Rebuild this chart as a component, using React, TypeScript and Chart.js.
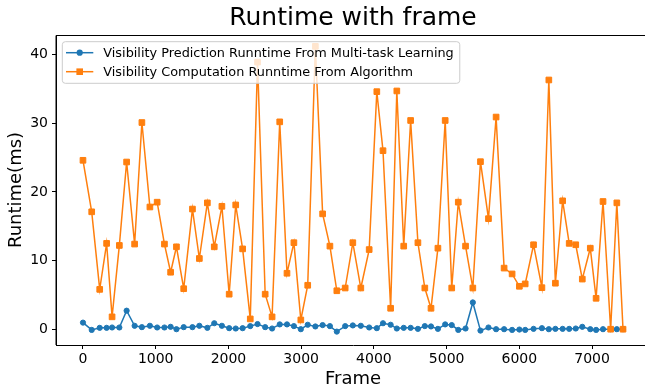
import React, { useEffect, useRef } from "react";
import { Chart, registerables } from "chart.js";

Chart.register(...registerables);

const FRAMES = [
  0, 120, 230, 325, 400, 500, 600, 710, 810, 920, 1020, 1120, 1205, 1285, 1385,
  1505, 1600, 1710, 1805, 1910, 2010, 2100, 2195, 2300, 2400, 2505, 2600, 2705,
  2805, 2900, 2995, 3090, 3195, 3295, 3395, 3490, 3605, 3710, 3820, 3935, 4040,
  4125, 4230, 4315, 4410, 4505, 4605, 4700, 4785, 4880, 4980, 5070, 5160, 5260,
  5360, 5465, 5575, 5680, 5790, 5900, 6000, 6080, 6195, 6310, 6405, 6495, 6595,
  6685, 6775, 6865, 6975, 7055, 7150, 7255, 7340, 7425,
];

const PREDICTION_RUNTIME = [
  0.96, -0.1, 0.2, 0.2, 0.25, 0.25, 2.7, 0.5, 0.3, 0.5, 0.25, 0.25, 0.35, 0.0,
  0.3, 0.3, 0.5, 0.2, 0.87, 0.5, 0.15, 0.1, 0.15, 0.45, 0.75, 0.3, 0.1, 0.7, 0.7,
  0.45, 0.0, 0.65, 0.4, 0.6, 0.45, -0.35, 0.45, 0.55, 0.5, 0.25, 0.15, 0.87,
  0.65, 0.1, 0.2, 0.2, 0.05, 0.45, 0.4, 0.05, 0.7, 0.6, -0.1, 0.1, 3.9, -0.2,
  0.25, 0.0, 0.0, -0.1, -0.05, -0.1, 0.05, 0.15, 0.0, 0.05, 0.05, 0.05, 0.1,
  0.35, 0.0, -0.1, 0.0, 0.0, 0.0, 0.0,
];

const COMPUTATION_RUNTIME = [
  24.6, 17.1, 5.8, 12.5, 1.8, 12.2, 24.35, 12.4, 30.1, 17.8, 18.5, 12.4, 8.3,
  12.0, 5.9, 17.5, 10.3, 18.4, 12.0, 17.9, 5.1, 18.1, 11.7, 1.5, 38.9, 5.1, 1.8,
  30.2, 8.15, 12.6, 1.35, 6.4, 41.2, 16.8, 12.1, 5.6, 6.0, 12.6, 6.0, 11.6, 34.6,
  26.0, 3.05, 34.7, 12.1, 30.4, 12.6, 6.0, 3.05, 11.8, 30.4, 6.0, 18.5, 12.1,
  6.0, 24.4, 16.1, 30.9, 8.9, 8.05, 6.25, 6.6, 12.3, 6.05, 36.3, 6.7, 18.7,
  12.5, 12.3, 7.3, 11.8, 4.5, 18.6, 0.0, 18.4, 0.0,
];

const X_TICKS = [0, 1000, 2000, 3000, 4000, 5000, 6000, 7000];
const Y_TICKS = [0, 10, 20, 30, 40];

const SERIES_LABELS = [
  "Visibility Prediction Runntime From Multi-task Learning",
  "Visibility Computation Runntime From Algorithm",
];

const BLUE = "#1f77b4";
const ORANGE = "#ff7f0e";
const FONT = '"DejaVu Sans", "Liberation Sans", sans-serif';

const frameBorderPlugin = {
  id: "frameBorder",
  afterDatasetsDraw(chart: any) {
    const { ctx, chartArea } = chart;
    const { left, right, top, bottom } = chartArea;
    ctx.save();
    ctx.strokeStyle = "#000";
    ctx.lineWidth = 1;
    ctx.beginPath();
    ctx.moveTo(left, bottom);
    ctx.lineTo(left, top + 0.5);
    ctx.lineTo(right, top + 0.5);
    ctx.stroke();
    ctx.beginPath();
    ctx.restore();
  },
};

const mplLegendPlugin = {
  id: "mplLegend",
  afterDatasetsDraw(chart: any) {
    const { ctx, chartArea } = chart;
    const x0 = chartArea.left + 6.3;
    const y0 = chartArea.top + 6.7;
    ctx.save();
    ctx.font = `12.85px ${FONT}`;
    const datasets = chart.data.datasets;
    const textX = x0 + 41;
    let maxW = 0;
    datasets.forEach((d: any) => {
      maxW = Math.max(maxW, ctx.measureText(d.label).width);
    });
    const w = textX - x0 + maxW + 6;
    const h = 41.6;
    const r = 3;
    ctx.beginPath();
    ctx.moveTo(x0 + r, y0);
    ctx.lineTo(x0 + w - r, y0);
    ctx.arcTo(x0 + w, y0, x0 + w, y0 + r, r);
    ctx.lineTo(x0 + w, y0 + h - r);
    ctx.arcTo(x0 + w, y0 + h, x0 + w - r, y0 + h, r);
    ctx.lineTo(x0 + r, y0 + h);
    ctx.arcTo(x0, y0 + h, x0, y0 + h - r, r);
    ctx.lineTo(x0, y0 + r);
    ctx.arcTo(x0, y0, x0 + r, y0, r);
    ctx.closePath();
    ctx.fillStyle = "rgba(255,255,255,0.8)";
    ctx.fill();
    ctx.strokeStyle = "#cccccc";
    ctx.lineWidth = 1;
    ctx.stroke();

    datasets.forEach((d: any, i: number) => {
      const cy = y0 + 11 + i * 19;
      ctx.strokeStyle = d.borderColor;
      ctx.lineWidth = 1.5;
      ctx.beginPath();
      ctx.moveTo(x0 + 3.7, cy);
      ctx.lineTo(x0 + 31, cy);
      ctx.stroke();
      const mx = x0 + 17.4;
      ctx.fillStyle = d.borderColor;
      if (d.pointStyle === "rect") {
        ctx.fillRect(mx - 3.3, cy - 3.3, 6.6, 6.6);
      } else {
        ctx.beginPath();
        ctx.arc(mx, cy, 3.1, 0, Math.PI * 2);
        ctx.fill();
      }
      ctx.fillStyle = "#000";
      ctx.textBaseline = "middle";
      ctx.textAlign = "left";
      ctx.fillText(d.label, textX, cy + 0.5);
    });
    ctx.beginPath();
    ctx.restore();
  },
};

export default function App() {
  const canvasRef = useRef<HTMLCanvasElement | null>(null);

  useEffect(() => {
    const canvas = canvasRef.current;
    if (!canvas) return;
    const chart = new Chart(canvas, {
      type: "line",
      data: {
        datasets: [
          {
            label: SERIES_LABELS[0],
            data: FRAMES.map((f, i) => ({ x: f, y: PREDICTION_RUNTIME[i] })),
            borderColor: BLUE,
            pointBackgroundColor: BLUE,
            pointBorderColor: BLUE,
            pointStyle: "circle",
            pointRadius: 2.6,
            pointBorderWidth: 1,
            borderWidth: 1.5,
            order: 1,
          },
          {
            label: SERIES_LABELS[1],
            data: FRAMES.map((f, i) => ({ x: f, y: COMPUTATION_RUNTIME[i] })),
            borderColor: ORANGE,
            pointBackgroundColor: ORANGE,
            pointBorderColor: ORANGE,
            pointStyle: "rect",
            pointRadius: 4,
            pointBorderWidth: 1,
            borderWidth: 1.5,
            order: 0,
          },
        ],
      },
      options: {
        animation: false,
        responsive: false,
        layout: { padding: { left: 0, top: 0, bottom: 0, right: 56 } },
        plugins: {
          legend: { display: false },
          tooltip: { enabled: false },
          title: {
            display: true,
            fullSize: false,
            text: "Runtime with frame",
            color: "#000",
            font: { family: FONT, size: 25, weight: "normal", lineHeight: 1.2 },
            padding: { top: 3, bottom: 2 },
          },
        },
        scales: {
          x: {
            type: "linear",
            min: -371,
            max: 7796,
            afterBuildTicks: (s: any) => {
              s.ticks = X_TICKS.map((v) => ({ value: v }));
            },
            afterFit: (s: any) => {
              s.height = 45;
            },
            grid: { drawOnChartArea: false, tickLength: 4, color: "#000" },
            border: { display: true, color: "#000", width: 1 },
            ticks: {
              color: "#000",
              font: { family: FONT, size: 14 },
              padding: 2,
              maxRotation: 0,
              autoSkip: false,
              callback: (v: any) => String(v),
            },
            title: {
              display: true,
              text: "Frame",
              color: "#000",
              font: { family: FONT, size: 18, lineHeight: 1.2 },
              padding: { top: 0, bottom: 0 },
            },
          },
          y: {
            type: "linear",
            position: "left",
            min: -2.3,
            max: 42.85,
            afterBuildTicks: (s: any) => {
              s.ticks = Y_TICKS.map((v) => ({ value: v }));
            },
            afterFit: (s: any) => {
              s.width = 56;
            },
            grid: { drawOnChartArea: false, tickLength: 4, color: "#000" },
            border: { display: true, color: "#000", width: 1 },
            ticks: {
              color: "#000",
              font: { family: FONT, size: 14 },
              padding: 4,
              callback: (v: any) => String(v),
            },
            title: {
              display: true,
              text: "Runtime(ms)",
              color: "#000",
              font: { family: FONT, size: 18, lineHeight: 1.2 },
              padding: { top: 6, bottom: 0 },
            },
          },
        },
      },
      plugins: [frameBorderPlugin, mplLegendPlugin],
    } as any);
    return () => chart.destroy();
  }, []);

  return (
    <div
      style={{
        position: "fixed",
        left: 0,
        top: 0,
        width: 706,
        height: 390,
        background: "#fff",
      }}
    >
      <canvas
        ref={canvasRef}
        width={706}
        height={390}
        style={{ display: "block", width: 706, height: 390 }}
      />
      <div
        style={{
          position: "absolute",
          left: 638,
          top: 37,
          width: 12,
          height: 307,
          background: "#fff",
        }}
      />
    </div>
  );
}
